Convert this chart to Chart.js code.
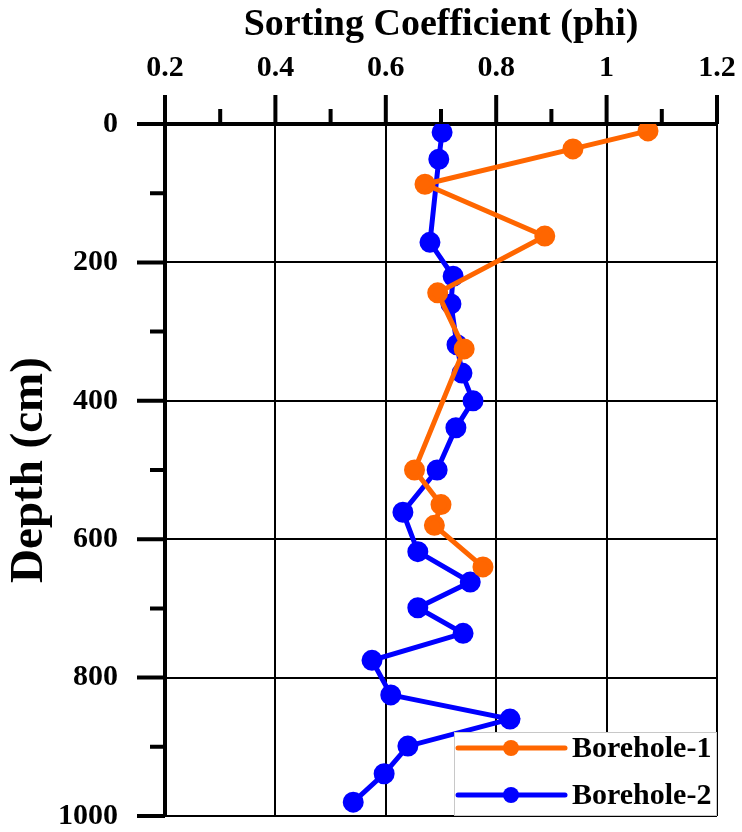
<!DOCTYPE html>
<html>
<head>
<meta charset="utf-8">
<script src="https://cdn.jsdelivr.net/npm/chart.js@4.4.1/dist/chart.umd.min.js"></script>
<style>
  html, body { margin: 0; padding: 0; background: #fff; overflow: hidden; }
  #grafico { display: block; }
</style>
</head>
<body>
<canvas id="grafico" width="742" height="832"></canvas>
<script>
const depth1 = [10, 36, 87, 162, 244, 325, 500, 550, 580, 640];
const sorting1 = [1.075, 0.939, 0.671, 0.888, 0.694, 0.742, 0.652, 0.700, 0.688, 0.776];

const depth2 = [12, 51, 171, 220, 260, 319, 360, 400, 439, 500, 561, 618, 662, 699, 736, 775, 825, 860, 899, 939, 980];
const sorting2 = [0.702, 0.696, 0.680, 0.722, 0.718, 0.729, 0.738, 0.758, 0.727, 0.693, 0.631, 0.658, 0.753, 0.658, 0.740, 0.575, 0.609, 0.825, 0.640, 0.597, 0.541];

const seriesNames = ["Borehole-1", "Borehole-2"];
const xTicks = [0.2, 0.4, 0.6, 0.8, 1, 1.2];
const xMinor = [0.3, 0.5, 0.7, 0.9, 1.1];
const yTicks = [0, 200, 400, 600, 800, 1000];
const yMinor = [100, 300, 500, 700, 900];

const fuente = "'Liberation Serif', 'Times New Roman', serif";
const naranja = "#ff6600";
const azul = "#0000ff";

const puntos = (xs, ys) => xs.map((x, i) => ({ x, y: ys[i] }));

// marcas mayores y menores de los ejes
const marcasEjes = {
  id: "marcasEjes",
  afterDraw(chart) {
    const { ctx, chartArea, scales } = chart;
    ctx.save();
    ctx.strokeStyle = "#000";
    ctx.lineWidth = 4;
    ctx.beginPath();
    xTicks.forEach(v => {
      const px = scales.x.getPixelForValue(v);
      ctx.moveTo(px, chartArea.top);
      ctx.lineTo(px, chartArea.top - 29);
    });
    xMinor.forEach(v => {
      const px = scales.x.getPixelForValue(v);
      ctx.moveTo(px, chartArea.top);
      ctx.lineTo(px, chartArea.top - 15);
    });
    yTicks.forEach(v => {
      const py = scales.y.getPixelForValue(v);
      ctx.moveTo(chartArea.left, py);
      ctx.lineTo(chartArea.left - 28, py);
    });
    yMinor.forEach(v => {
      const py = scales.y.getPixelForValue(v);
      ctx.moveTo(chartArea.left, py);
      ctx.lineTo(chartArea.left - 15, py);
    });
    ctx.stroke();
    ctx.restore();
  }
};

// leyenda con linea y marcador, abajo a la derecha
const leyenda = {
  id: "leyenda",
  afterDraw(chart) {
    const { ctx, chartArea } = chart;
    const ancho = 263, alto = 84;
    const x0 = chartArea.right - ancho;
    const y0 = chartArea.bottom - alto;
    ctx.save();
    ctx.fillStyle = "#fff";
    ctx.fillRect(x0, y0, ancho, alto);
    ctx.strokeStyle = "#c8c8c8";
    ctx.lineWidth = 1;
    ctx.strokeRect(x0 + 0.5, y0 + 0.5, ancho - 1, alto - 1);
    chart.data.datasets.forEach((ds, i) => {
      const cy = y0 + 16 + i * 47;
      ctx.strokeStyle = ds.borderColor;
      ctx.lineWidth = 5;
      ctx.lineCap = "round";
      ctx.beginPath();
      ctx.moveTo(x0 + 4, cy);
      ctx.lineTo(x0 + 111, cy);
      ctx.stroke();
      ctx.fillStyle = ds.backgroundColor;
      ctx.beginPath();
      ctx.arc(x0 + 57, cy, 8, 0, Math.PI * 2);
      ctx.fill();
      ctx.fillStyle = "#000";
      ctx.font = `bold 30px ${fuente}`;
      ctx.textBaseline = "middle";
      ctx.textAlign = "left";
      ctx.fillText(ds.label, x0 + 118, cy + 1);
    });
    ctx.restore();
  }
};

new Chart(document.getElementById("grafico"), {
  type: "scatter",
  data: {
    datasets: [
      {
        label: seriesNames[0],
        data: puntos(sorting1, depth1),
        showLine: true,
        borderColor: naranja,
        backgroundColor: naranja,
        borderWidth: 5,
        pointRadius: 8,
        pointHoverRadius: 8
      },
      {
        label: seriesNames[1],
        data: puntos(sorting2, depth2),
        showLine: true,
        borderColor: azul,
        backgroundColor: azul,
        borderWidth: 5,
        pointRadius: 8,
        pointHoverRadius: 8
      }
    ]
  },
  options: {
    responsive: false,
    animation: false,
    layout: { padding: { top: 0, left: 0, right: 25, bottom: 16 } },
    plugins: {
      legend: { display: false },
      tooltip: { enabled: false }
    },
    scales: {
      x: {
        type: "linear",
        position: "top",
        min: 0.2,
        max: 1.2,
        afterBuildTicks: scale => { scale.ticks = xTicks.map(value => ({ value })); },
        afterFit: scale => {
          scale.height = 124;
          scale.paddingLeft = 0;
          scale.paddingRight = 0;
        },
        grid: { color: "#000", lineWidth: 2, drawTicks: false },
        border: { display: true, color: "#000", width: 4 },
        ticks: {
          color: "#000",
          padding: 38,
          maxRotation: 0,
          font: { family: fuente, size: 30, weight: "bold" },
          callback: v => String(v)
        },
        title: {
          display: true,
          text: "Sorting Coefficient (phi)",
          color: "#000",
          padding: { top: 2, bottom: 0 },
          font: { family: fuente, size: 38, weight: "bold" }
        }
      },
      y: {
        type: "linear",
        position: "left",
        reverse: true,
        min: 0,
        max: 1000,
        afterBuildTicks: scale => { scale.ticks = yTicks.map(value => ({ value })); },
        afterFit: scale => {
          scale.width = 165;
          scale.paddingTop = 0;
          scale.paddingBottom = 0;
        },
        grid: { color: "#000", lineWidth: 2, drawTicks: false },
        border: { display: true, color: "#000", width: 4 },
        ticks: {
          color: "#000",
          padding: 47,
          font: { family: fuente, size: 30, weight: "bold" },
          callback: v => String(v)
        },
        title: {
          display: true,
          text: "Depth (cm)",
          color: "#000",
          padding: { top: 2, bottom: 0 },
          font: { family: fuente, size: 47, weight: "bold" }
        }
      }
    }
  },
  plugins: [marcasEjes, leyenda]
});
</script>
</body>
</html>
